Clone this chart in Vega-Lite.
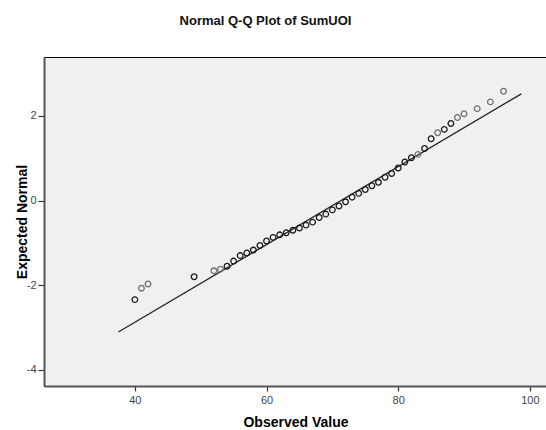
{
  "$schema": "https://vega.github.io/schema/vega-lite/v6.json",
  "autosize": {"type": "none"},
  "width": 503,
  "height": 329,
  "padding": {"left": 44, "top": 57, "right": 0, "bottom": 44},
  "background": "white",
  "title": {
    "text": "Normal Q-Q Plot of SumUOI",
    "font": "Liberation Sans",
    "fontSize": 13,
    "fontWeight": "bold",
    "color": "#111111",
    "anchor": "middle",
    "dx": -30,
    "baseline": "alphabetic",
    "offset": 19
  },
  "config": {
    "view": {"fill": "#f0f0f0", "stroke": "#000000", "strokeWidth": 1},
    "axis": {
      "labelFont": "Liberation Sans",
      "titleFont": "Liberation Sans",
      "labelFontSize": 11,
      "labelColor": "#444444",
      "titleFontSize": 14,
      "titleFontWeight": "bold",
      "titleColor": "#000000",
      "domainColor": "#555555",
      "domainWidth": 2,
      "tickColor": "#333333",
      "tickWidth": 1.2,
      "grid": false
    }
  },
  "datasets": {
    "points": [
      {"observed": 40, "expected": -2.34, "cases": 2},
      {"observed": 41, "expected": -2.07, "cases": 1},
      {"observed": 42, "expected": -1.97, "cases": 1},
      {"observed": 49, "expected": -1.80, "cases": 2},
      {"observed": 52, "expected": -1.66, "cases": 1},
      {"observed": 53, "expected": -1.62, "cases": 1},
      {"observed": 54, "expected": -1.55, "cases": 2},
      {"observed": 55, "expected": -1.43, "cases": 2},
      {"observed": 56, "expected": -1.30, "cases": 2},
      {"observed": 57, "expected": -1.24, "cases": 2},
      {"observed": 58, "expected": -1.17, "cases": 2},
      {"observed": 59, "expected": -1.06, "cases": 2},
      {"observed": 60, "expected": -0.955, "cases": 2},
      {"observed": 61, "expected": -0.87, "cases": 2},
      {"observed": 62, "expected": -0.81, "cases": 2},
      {"observed": 63, "expected": -0.76, "cases": 2},
      {"observed": 64, "expected": -0.70, "cases": 2},
      {"observed": 65, "expected": -0.65, "cases": 2},
      {"observed": 66, "expected": -0.58, "cases": 2},
      {"observed": 67, "expected": -0.51, "cases": 2},
      {"observed": 68, "expected": -0.40, "cases": 2},
      {"observed": 69, "expected": -0.32, "cases": 2},
      {"observed": 70, "expected": -0.22, "cases": 2},
      {"observed": 71, "expected": -0.13, "cases": 2},
      {"observed": 72, "expected": -0.03, "cases": 2},
      {"observed": 73, "expected": 0.08, "cases": 2},
      {"observed": 74, "expected": 0.17, "cases": 2},
      {"observed": 75, "expected": 0.26, "cases": 2},
      {"observed": 76, "expected": 0.35, "cases": 2},
      {"observed": 77, "expected": 0.43, "cases": 2},
      {"observed": 78, "expected": 0.55, "cases": 2},
      {"observed": 79, "expected": 0.64, "cases": 2},
      {"observed": 80, "expected": 0.77, "cases": 2},
      {"observed": 81, "expected": 0.91, "cases": 2},
      {"observed": 82, "expected": 1.01, "cases": 2},
      {"observed": 83, "expected": 1.09, "cases": 1},
      {"observed": 84, "expected": 1.23, "cases": 2},
      {"observed": 85, "expected": 1.46, "cases": 2},
      {"observed": 86, "expected": 1.60, "cases": 1},
      {"observed": 87, "expected": 1.68, "cases": 2},
      {"observed": 88, "expected": 1.82, "cases": 2},
      {"observed": 89, "expected": 1.96, "cases": 1},
      {"observed": 90, "expected": 2.05, "cases": 1},
      {"observed": 92, "expected": 2.17, "cases": 1},
      {"observed": 94, "expected": 2.33, "cases": 1},
      {"observed": 96, "expected": 2.58, "cases": 1}
    ],
    "refline": [
      {"observed": 37.5, "expected": -3.106},
      {"observed": 98.7, "expected": 2.52}
    ]
  },
  "layer": [
    {
      "data": {"name": "refline"},
      "mark": {"type": "line", "color": "#222222", "strokeWidth": 1.3, "clip": true},
      "encoding": {
        "x": {"field": "observed", "type": "quantitative",
              "scale": {"domain": [26.2, 102.6], "nice": false, "zero": false},
              "axis": {"title": "Observed Value", "values": [40, 60, 80, 100], "tickSize": 5, "labelPadding": 3, "titlePadding": 10}},
        "y": {"field": "expected", "type": "quantitative",
              "scale": {"domain": [-4.38, 3.39], "nice": false, "zero": false},
              "axis": {"title": "Expected Normal", "values": [-4, -2, 0, 2], "tickSize": 6, "labelPadding": 2, "titlePadding": -3,
                       "labelExpr": "replace(datum.label, '\u2212', '-')"}}
      }
    },
    {
      "data": {"name": "points"},
      "mark": {"type": "point", "shape": "circle", "filled": false, "size": 32, "strokeWidth": 1.3, "opacity": 1},
      "encoding": {
        "x": {"field": "observed", "type": "quantitative"},
        "y": {"field": "expected", "type": "quantitative"},
        "stroke": {"field": "cases", "type": "ordinal",
                   "scale": {"domain": [1, 2], "range": ["#707070", "#1a1a1a"]},
                   "legend": null}
      }
    }
  ]
}
